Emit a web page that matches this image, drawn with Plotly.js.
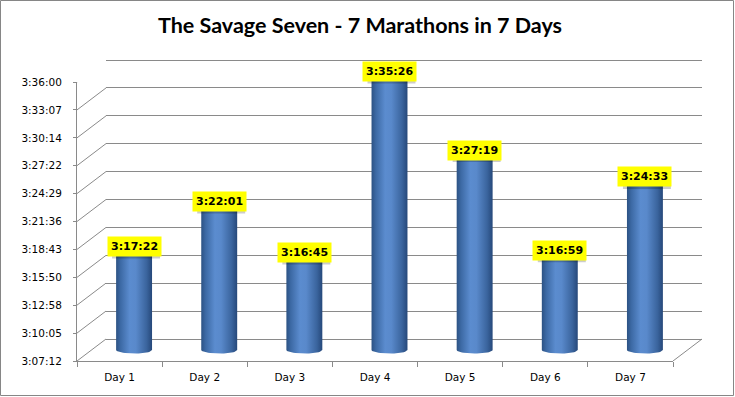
<!DOCTYPE html>
<html><head><meta charset="utf-8">
<script src="https://cdn.plot.ly/plotly-3.0.1.min.js"></script>
<style>html,body{margin:0;padding:0;background:#fff}#chart{width:735px;height:397px}</style>
</head><body><div id="chart"></div>
<script>
// ---- data ----
const days = ['Day 1','Day 2','Day 3','Day 4','Day 5','Day 6','Day 7'];
const times = ['3:17:22','3:22:01','3:16:45','3:35:26','3:27:19','3:16:59','3:24:33'];
const tickText = ['3:07:12','3:10:05','3:12:58','3:15:50','3:18:43','3:21:36','3:24:29','3:27:22','3:30:14','3:33:07','3:36:00'];
const chartTitle = 'The Savage Seven - 7 Marathons in 7 Days';

function toSec(s){const p=s.split(':').map(Number);return p[0]*3600+p[1]*60+p[2];}
const secs = times.map(toSec);
const tickVals = tickText.map(toSec);
const vmin = tickVals[0], vmax = tickVals[tickVals.length-1];

// ---- geometry (pixels) ----
const W=735,H=397;
const fx0=77, fx1=673, fyb=361, fyt=82;   // front frame
const dx=29, dy=22;                        // depth offset
const k=(fyb-fyt)/(vmax-vmin);             // px per second
const px=v=>v/W, py=v=>1-v/H;

// bar subplot (mid depth), with padding below floor for the cylinder base curve
const padPx=12;
const bx0=fx0+dx/2, bx1=fx1+dx/2, byb=fyb-dy/2, byt=fyt-dy/2;
const barRangeMin = vmin - padPx/k;
// back wall with a small pad on top so the top gridline is inside the range
const topPad=3;

const traces=[];
traces.push({type:'scatter',x:days,y:secs,mode:'none',xaxis:'x',yaxis:'y',hoverinfo:'skip',showlegend:false});
traces.push({type:'scatter',x:[0,6],y:[vmin,vmax],mode:'none',xaxis:'x2',yaxis:'y2',hoverinfo:'skip',showlegend:false});

const w=0.211, ryPx=3.5, ry=ryPx/k, N=24;
secs.forEach((v,i)=>{
  const xs=[],ys=[];
  for(let j=0;j<=N;j++){const t=Math.PI*j/N;xs.push(i-w*Math.cos(t));ys.push(vmin-ry*Math.sin(t));}
  xs.push(i+w,i-w,i-w);ys.push(v,v,vmin);
  traces.push({type:'scatter',x:xs,y:ys,mode:'lines',fill:'toself',line:{width:0,color:'rgba(0,0,0,0)'},
    fillgradient:{type:'horizontal',colorscale:[[0,'#2C5283'],[0.12,'#3C69A4'],[0.38,'#5B8CCF'],[0.55,'#5989CB'],[0.85,'#3A649D'],[1,'#26487A']]},
    xaxis:'x3',yaxis:'y3',hoverinfo:'skip',showlegend:false});
});

const grey='#8A8A8A';
const shapes=[];
tickVals.forEach(v=>{
  shapes.push({type:'line',xref:'paper',xsizemode:'pixel',xanchor:px(fx0),x0:0,x1:dx,
    yref:'y',ysizemode:'pixel',yanchor:v,y0:0,y1:dy,line:{color:grey,width:1}});
});
shapes.push({type:'line',xref:'paper',xsizemode:'pixel',xanchor:px(fx1),x0:0,x1:dx,
  yref:'y',ysizemode:'pixel',yanchor:vmin,y0:0,y1:dy,line:{color:grey,width:1}});
shapes.push({type:'rect',xref:'paper',yref:'paper',x0:0.5/W,x1:1-1.5/W,y0:1.5/H,y1:1-0.5/H,line:{color:'#868686',width:1},fillcolor:'rgba(0,0,0,0)'});

// label shadows (drawn as shapes under the label boxes)
const boxW=48, boxH=20, lift=5;
secs.forEach((v,i)=>{
  shapes.push({type:'rect',layer:'above',xref:'x3',xsizemode:'pixel',xanchor:i,x0:-boxW/2+2,x1:boxW/2+2,
    yref:'y3',ysizemode:'pixel',yanchor:v,y0:lift-boxH/2-2,y1:lift+boxH/2-2,line:{width:0},fillcolor:'rgba(0,0,0,0.2)'});
});

const annotations=[];
secs.forEach((v,i)=>{
  annotations.push({xref:'x3',yref:'y3',x:i,y:v,yshift:lift,showarrow:false,text:'<b>'+times[i]+'</b>',
    font:{family:'DejaVu Sans',size:11,color:'#000'},bgcolor:'#FFFF00',borderpad:3});
});

const tf={family:'DejaVu Sans',size:10.5,color:'#000'};
const layout={
  width:W,height:H,margin:{l:0,r:0,t:0,b:0},paper_bgcolor:'#fff',plot_bgcolor:'rgba(0,0,0,0)',
  showlegend:false,
  title:{text:chartTitle,font:{family:'Lato',size:21.5,color:'#000',weight:'bold'},x:px(360),xanchor:'center',y:py(25),yanchor:'middle',xref:'paper',yref:'paper'},
  xaxis:{domain:[px(fx0),px(fx1)],anchor:'y',type:'category',range:[-0.5,6.5],tickson:'boundaries',ticks:'outside',ticklen:5,tickcolor:grey,
    ticklabelstandoff:6,showline:true,linecolor:grey,linewidth:1,showgrid:false,zeroline:false,tickfont:tf,fixedrange:true},
  yaxis:{domain:[py(fyb),py(fyt)],anchor:'x',range:[vmin,vmax],tickvals:tickVals,ticktext:tickText,ticks:'outside',ticklen:3,tickcolor:grey,
    ticklabelstandoff:9,showline:true,linecolor:grey,linewidth:1,showgrid:false,zeroline:false,tickfont:tf,fixedrange:true},
  xaxis2:{domain:[px(fx0+dx),px(fx1+dx)],anchor:'y2',range:[-0.5,6.5],showline:true,linecolor:grey,linewidth:1,showgrid:false,zeroline:false,
    showticklabels:false,ticks:'',fixedrange:true},
  yaxis2:{domain:[py(fyb-dy),py(fyt-dy-topPad)],anchor:'x2',range:[vmin,vmax+topPad/k],tickvals:tickVals,showgrid:true,gridcolor:grey,gridwidth:1,
    showline:false,showticklabels:false,ticks:'',zeroline:false,fixedrange:true},
  xaxis3:{domain:[px(bx0),px(bx1)],anchor:'y3',range:[-0.5,6.5],visible:false,fixedrange:true},
  yaxis3:{domain:[py(byb+padPx),py(byt)],anchor:'x3',range:[barRangeMin,vmax],visible:false,fixedrange:true},
  shapes:shapes,annotations:annotations
};
Plotly.newPlot('chart',traces,layout,{displayModeBar:false,staticPlot:true});
</script></body></html>
